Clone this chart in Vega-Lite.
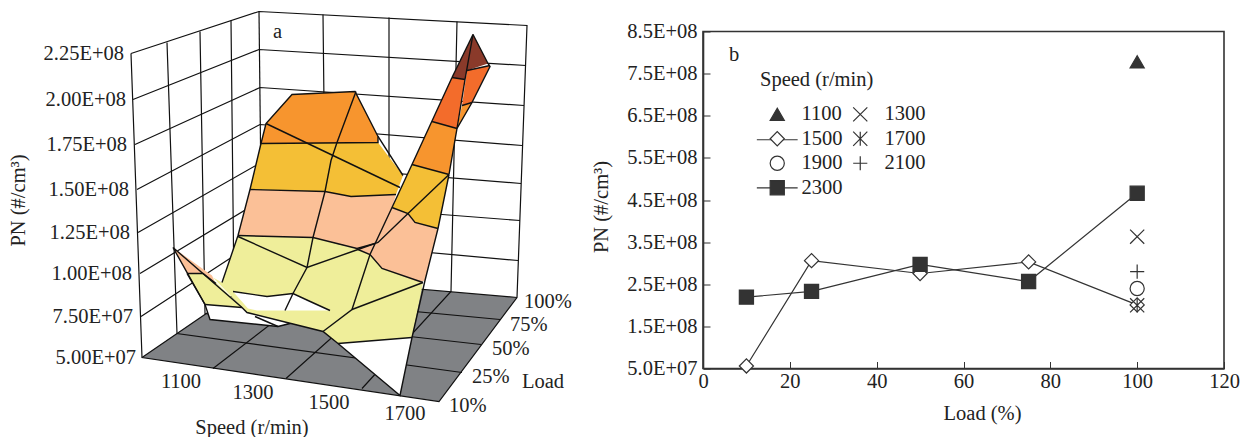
{"$schema":"https://vega.github.io/schema/vega-lite/v6.json","padding":{"top":8.5,"left":0,"right":0,"bottom":0},"autosize":{"type":"pad"},"spacing":0,"background":"white","config":{"font":"Liberation Serif","view":{"stroke":null}},
"resolve":{"scale":{"fill":"independent","shape":"independent"},"legend":{"fill":"independent","shape":"independent"}},
"hconcat":[
{"width":590,"height":406,
"encoding":{"x":{"field":"vx","type":"quantitative","scale":{"domain":[0,590],"nice":false,"zero":false},"axis":null},"y":{"field":"vy","type":"quantitative","scale":{"domain":[437,31],"nice":false,"zero":false},"axis":null}},
"layer":[
{"data":{"values":[
{"p":"a01","f":"floor","i":0,"vx":142,"vy":357},{"p":"a01","f":"floor","i":1,"vx":439,"vy":401},{"p":"a01","f":"floor","i":2,"vx":517,"vy":297},{"p":"a01","f":"floor","i":3,"vx":262,"vy":275},{"p":"a01","f":"floor","i":4,"vx":142,"vy":357}
]},"mark":{"type":"line","strokeWidth":0,"clip":false},"encoding":{"detail":{"field":"p"},"order":{"field":"i"},"fill":{"field":"f","type":"nominal","legend":null,"scale":{"domain":["floor","pale","white","peach","yellow","orange","deep","brown"],"range":["#808285","#EFEE9A","#FFFFFF","#FBC097","#F4BF36","#F7952E","#F36C2B","#8A3A2A"]}}}},
{"data":{"values":[
{"s":"f1","i":0,"vx":131,"vy":53},{"s":"f1","i":1,"vx":142,"vy":357},{"s":"f1","i":2,"vx":439,"vy":401},{"s":"f1","i":3,"vx":517,"vy":297},{"s":"f1","i":4,"vx":527,"vy":25},{"s":"f1","i":5,"vx":259,"vy":11},{"s":"f1","i":6,"vx":131,"vy":53},
{"s":"f2","i":0,"vx":142,"vy":357},{"s":"f2","i":1,"vx":262,"vy":275},{"s":"f2","i":2,"vx":517,"vy":297},
{"s":"f3","i":0,"vx":259,"vy":11},{"s":"f3","i":1,"vx":262,"vy":275},
{"s":"v1","i":0,"vx":167,"vy":42},{"s":"v1","i":1,"vx":177,"vy":333},{"s":"v1","i":2,"vx":462,"vy":372},
{"s":"v2","i":0,"vx":200,"vy":31},{"s":"v2","i":1,"vx":205,"vy":313},{"s":"v2","i":2,"vx":481,"vy":344},
{"s":"v3","i":0,"vx":231,"vy":20},{"s":"v3","i":1,"vx":234,"vy":294},{"s":"v3","i":2,"vx":500,"vy":319},
{"s":"b1","i":0,"vx":323,"vy":14},{"s":"b1","i":1,"vx":326,"vy":281},{"s":"b1","i":2,"vx":213,"vy":368},
{"s":"b2","i":0,"vx":389,"vy":17},{"s":"b2","i":1,"vx":389,"vy":286},{"s":"b2","i":2,"vx":286,"vy":378},
{"s":"b3","i":0,"vx":457,"vy":21},{"s":"b3","i":1,"vx":451,"vy":291},{"s":"b3","i":2,"vx":362,"vy":388},
{"s":"z2","i":0,"vx":133,"vy":99},{"s":"z2","i":1,"vx":259,"vy":49},{"s":"z2","i":2,"vx":526,"vy":65},
{"s":"z3","i":0,"vx":135,"vy":144},{"s":"z3","i":1,"vx":260,"vy":87},{"s":"z3","i":2,"vx":524,"vy":105},
{"s":"z4","i":0,"vx":137,"vy":189},{"s":"z4","i":1,"vx":260,"vy":124},{"s":"z4","i":2,"vx":522,"vy":145},
{"s":"z5","i":0,"vx":138,"vy":232},{"s":"z5","i":1,"vx":261,"vy":162},{"s":"z5","i":2,"vx":521,"vy":183},
{"s":"z6","i":0,"vx":140,"vy":273},{"s":"z6","i":1,"vx":261,"vy":200},{"s":"z6","i":2,"vx":520,"vy":220},
{"s":"z7","i":0,"vx":141,"vy":316},{"s":"z7","i":1,"vx":262,"vy":237},{"s":"z7","i":2,"vx":518,"vy":260}
]},"mark":{"type":"line","stroke":"#111","strokeWidth":1.2},"encoding":{"detail":{"field":"s"},"order":{"field":"i"}}},
{"data":{"values":[
{"p":"s01","f":"pale","i":0,"vx":238,"vy":235},{"p":"s01","f":"pale","i":1,"vx":313,"vy":237},{"p":"s01","f":"pale","i":2,"vx":358,"vy":249},{"p":"s01","f":"pale","i":3,"vx":370,"vy":254},{"p":"s01","f":"pale","i":4,"vx":382,"vy":268},{"p":"s01","f":"pale","i":5,"vx":423,"vy":282},{"p":"s01","f":"pale","i":6,"vx":412,"vy":337},{"p":"s01","f":"pale","i":7,"vx":338,"vy":343},{"p":"s01","f":"pale","i":8,"vx":323,"vy":331},{"p":"s01","f":"pale","i":9,"vx":247,"vy":312},{"p":"s01","f":"pale","i":10,"vx":242,"vy":307},{"p":"s01","f":"pale","i":11,"vx":213,"vy":277},{"p":"s01","f":"pale","i":12,"vx":222,"vy":282},{"p":"s01","f":"pale","i":13,"vx":238,"vy":235},
{"p":"s02","f":"white","i":0,"vx":338,"vy":343},{"p":"s02","f":"white","i":1,"vx":412,"vy":337},{"p":"s02","f":"white","i":2,"vx":400,"vy":395},{"p":"s02","f":"white","i":3,"vx":338,"vy":343},
{"p":"s03","f":"white","i":0,"vx":233,"vy":291},{"p":"s03","f":"white","i":1,"vx":267,"vy":296},{"p":"s03","f":"white","i":2,"vx":293,"vy":293},{"p":"s03","f":"white","i":3,"vx":308,"vy":300},{"p":"s03","f":"white","i":4,"vx":330,"vy":310},{"p":"s03","f":"white","i":5,"vx":257,"vy":310},{"p":"s03","f":"white","i":6,"vx":248,"vy":308},{"p":"s03","f":"white","i":7,"vx":233,"vy":291},
{"p":"s04","f":"white","i":0,"vx":205,"vy":304},{"p":"s04","f":"white","i":1,"vx":242,"vy":307},{"p":"s04","f":"white","i":2,"vx":247,"vy":312},{"p":"s04","f":"white","i":3,"vx":290,"vy":323},{"p":"s04","f":"white","i":4,"vx":278,"vy":326},{"p":"s04","f":"white","i":5,"vx":210,"vy":319},{"p":"s04","f":"white","i":6,"vx":205,"vy":304},
{"p":"s05","f":"pale","i":0,"vx":187,"vy":273},{"p":"s05","f":"pale","i":1,"vx":203,"vy":273},{"p":"s05","f":"pale","i":2,"vx":213,"vy":279},{"p":"s05","f":"pale","i":3,"vx":242,"vy":307},{"p":"s05","f":"pale","i":4,"vx":205,"vy":304},{"p":"s05","f":"pale","i":5,"vx":187,"vy":273},
{"p":"s06","f":"peach","i":0,"vx":173,"vy":247},{"p":"s06","f":"peach","i":1,"vx":212,"vy":275},{"p":"s06","f":"peach","i":2,"vx":215,"vy":282},{"p":"s06","f":"peach","i":3,"vx":203,"vy":273},{"p":"s06","f":"peach","i":4,"vx":187,"vy":273},{"p":"s06","f":"peach","i":5,"vx":173,"vy":247},
{"p":"s07","f":"peach","i":0,"vx":250,"vy":189},{"p":"s07","f":"peach","i":1,"vx":325,"vy":191},{"p":"s07","f":"peach","i":2,"vx":351,"vy":196},{"p":"s07","f":"peach","i":3,"vx":396,"vy":194},{"p":"s07","f":"peach","i":4,"vx":392,"vy":207},{"p":"s07","f":"peach","i":5,"vx":408,"vy":213},{"p":"s07","f":"peach","i":6,"vx":415,"vy":222},{"p":"s07","f":"peach","i":7,"vx":438,"vy":228},{"p":"s07","f":"peach","i":8,"vx":425,"vy":280},{"p":"s07","f":"peach","i":9,"vx":420,"vy":282},{"p":"s07","f":"peach","i":10,"vx":382,"vy":268},{"p":"s07","f":"peach","i":11,"vx":370,"vy":254},{"p":"s07","f":"peach","i":12,"vx":358,"vy":249},{"p":"s07","f":"peach","i":13,"vx":313,"vy":237},{"p":"s07","f":"peach","i":14,"vx":238,"vy":235},{"p":"s07","f":"peach","i":15,"vx":250,"vy":189},
{"p":"s08","f":"yellow","i":0,"vx":261,"vy":143},{"p":"s08","f":"yellow","i":1,"vx":378,"vy":142},{"p":"s08","f":"yellow","i":2,"vx":403,"vy":175},{"p":"s08","f":"yellow","i":3,"vx":396,"vy":194},{"p":"s08","f":"yellow","i":4,"vx":351,"vy":196},{"p":"s08","f":"yellow","i":5,"vx":325,"vy":191},{"p":"s08","f":"yellow","i":6,"vx":250,"vy":189},{"p":"s08","f":"yellow","i":7,"vx":261,"vy":143},
{"p":"s09","f":"orange","i":0,"vx":266,"vy":123},{"p":"s09","f":"orange","i":1,"vx":292,"vy":94},{"p":"s09","f":"orange","i":2,"vx":355,"vy":91},{"p":"s09","f":"orange","i":3,"vx":378,"vy":136},{"p":"s09","f":"orange","i":4,"vx":378,"vy":142},{"p":"s09","f":"orange","i":5,"vx":261,"vy":143},{"p":"s09","f":"orange","i":6,"vx":266,"vy":123},
{"p":"s10","f":"yellow","i":0,"vx":412,"vy":164},{"p":"s10","f":"yellow","i":1,"vx":449,"vy":174},{"p":"s10","f":"yellow","i":2,"vx":438,"vy":228},{"p":"s10","f":"yellow","i":3,"vx":415,"vy":222},{"p":"s10","f":"yellow","i":4,"vx":408,"vy":213},{"p":"s10","f":"yellow","i":5,"vx":392,"vy":207},{"p":"s10","f":"yellow","i":6,"vx":412,"vy":164},
{"p":"s11","f":"orange","i":0,"vx":432,"vy":121},{"p":"s11","f":"orange","i":1,"vx":457,"vy":128},{"p":"s11","f":"orange","i":2,"vx":449,"vy":174},{"p":"s11","f":"orange","i":3,"vx":412,"vy":164},{"p":"s11","f":"orange","i":4,"vx":432,"vy":121},
{"p":"s12","f":"deep","i":0,"vx":452,"vy":77},{"p":"s12","f":"deep","i":1,"vx":465,"vy":79},{"p":"s12","f":"deep","i":2,"vx":457,"vy":128},{"p":"s12","f":"deep","i":3,"vx":432,"vy":121},{"p":"s12","f":"deep","i":4,"vx":452,"vy":77},
{"p":"s13","f":"deep","i":0,"vx":467,"vy":70},{"p":"s13","f":"deep","i":1,"vx":490,"vy":65},{"p":"s13","f":"deep","i":2,"vx":472,"vy":102},{"p":"s13","f":"deep","i":3,"vx":462,"vy":105},{"p":"s13","f":"deep","i":4,"vx":467,"vy":70},
{"p":"s14","f":"orange","i":0,"vx":462,"vy":105},{"p":"s14","f":"orange","i":1,"vx":472,"vy":102},{"p":"s14","f":"orange","i":2,"vx":457,"vy":128},{"p":"s14","f":"orange","i":3,"vx":462,"vy":105},
{"p":"s15","f":"brown","i":0,"vx":473,"vy":34},{"p":"s15","f":"brown","i":1,"vx":488,"vy":63},{"p":"s15","f":"brown","i":2,"vx":467,"vy":70},{"p":"s15","f":"brown","i":3,"vx":465,"vy":79},{"p":"s15","f":"brown","i":4,"vx":452,"vy":77},{"p":"s15","f":"brown","i":5,"vx":473,"vy":34}
]},"mark":{"type":"line","strokeWidth":0},"encoding":{"detail":{"field":"p"},"order":{"field":"i"},"fill":{"field":"f","type":"nominal","legend":null,"scale":{"domain":["floor","pale","white","peach","yellow","orange","deep","brown"],"range":["#808285","#EFEE9A","#FFFFFF","#FBC097","#F4BF36","#F7952E","#F36C2B","#8A3A2A"]}}}},
{"data":{"values":[
{"s":"l01","i":0,"vx":222,"vy":282},{"s":"l01","i":1,"vx":238,"vy":235},{"s":"l01","i":2,"vx":250,"vy":189},{"s":"l01","i":3,"vx":261,"vy":143},{"s":"l01","i":4,"vx":266,"vy":123},{"s":"l01","i":5,"vx":292,"vy":94},{"s":"l01","i":6,"vx":355,"vy":91},{"s":"l01","i":7,"vx":378,"vy":136},{"s":"l01","i":8,"vx":403,"vy":175},
{"s":"l02","i":0,"vx":378,"vy":136},{"s":"l02","i":1,"vx":378,"vy":142},{"s":"l02","i":2,"vx":261,"vy":143},
{"s":"l03","i":0,"vx":266,"vy":123},{"s":"l03","i":1,"vx":400,"vy":187},
{"s":"l04","i":0,"vx":356,"vy":91},{"s":"l04","i":1,"vx":337,"vy":142},{"s":"l04","i":2,"vx":331,"vy":160},{"s":"l04","i":3,"vx":325,"vy":191},{"s":"l04","i":4,"vx":313,"vy":237},{"s":"l04","i":5,"vx":307,"vy":267},{"s":"l04","i":6,"vx":293,"vy":293},{"s":"l04","i":7,"vx":285,"vy":310},
{"s":"l05","i":0,"vx":250,"vy":189},{"s":"l05","i":1,"vx":325,"vy":191},{"s":"l05","i":2,"vx":351,"vy":196},{"s":"l05","i":3,"vx":396,"vy":194},
{"s":"l06","i":0,"vx":238,"vy":235},{"s":"l06","i":1,"vx":313,"vy":237},{"s":"l06","i":2,"vx":357,"vy":248},{"s":"l06","i":3,"vx":375,"vy":243},
{"s":"l07","i":0,"vx":238,"vy":236},{"s":"l07","i":1,"vx":307,"vy":267},{"s":"l07","i":2,"vx":358,"vy":249},{"s":"l07","i":3,"vx":378,"vy":242},{"s":"l07","i":4,"vx":408,"vy":213},{"s":"l07","i":5,"vx":449,"vy":174},
{"s":"l08","i":0,"vx":452,"vy":77},{"s":"l08","i":1,"vx":412,"vy":164},{"s":"l08","i":2,"vx":392,"vy":207},{"s":"l08","i":3,"vx":370,"vy":254},{"s":"l08","i":4,"vx":352,"vy":309},{"s":"l08","i":5,"vx":323,"vy":331},
{"s":"l09","i":0,"vx":358,"vy":249},{"s":"l09","i":1,"vx":370,"vy":254},{"s":"l09","i":2,"vx":382,"vy":268},{"s":"l09","i":3,"vx":423,"vy":282},
{"s":"l10","i":0,"vx":352,"vy":309},{"s":"l10","i":1,"vx":423,"vy":282},
{"s":"l11","i":0,"vx":449,"vy":174},{"s":"l11","i":1,"vx":438,"vy":228},{"s":"l11","i":2,"vx":425,"vy":280},{"s":"l11","i":3,"vx":412,"vy":337},{"s":"l11","i":4,"vx":400,"vy":395},{"s":"l11","i":5,"vx":338,"vy":343},{"s":"l11","i":6,"vx":323,"vy":331},{"s":"l11","i":7,"vx":247,"vy":312},{"s":"l11","i":8,"vx":242,"vy":307},{"s":"l11","i":9,"vx":173,"vy":247},{"s":"l11","i":10,"vx":205,"vy":304},{"s":"l11","i":11,"vx":210,"vy":319},{"s":"l11","i":12,"vx":278,"vy":326},{"s":"l11","i":13,"vx":290,"vy":323},
{"s":"l12","i":0,"vx":412,"vy":337},{"s":"l12","i":1,"vx":338,"vy":343},
{"s":"l13","i":0,"vx":473,"vy":34},{"s":"l13","i":1,"vx":488,"vy":63},{"s":"l13","i":2,"vx":490,"vy":66},{"s":"l13","i":3,"vx":472,"vy":102},{"s":"l13","i":4,"vx":457,"vy":128},{"s":"l13","i":5,"vx":449,"vy":174},
{"s":"l14","i":0,"vx":473,"vy":34},{"s":"l14","i":1,"vx":452,"vy":77},
{"s":"l15","i":0,"vx":473,"vy":34},{"s":"l15","i":1,"vx":465,"vy":79},{"s":"l15","i":2,"vx":457,"vy":128},
{"s":"l16","i":0,"vx":467,"vy":70},{"s":"l16","i":1,"vx":490,"vy":65},
{"s":"l17","i":0,"vx":452,"vy":77},{"s":"l17","i":1,"vx":465,"vy":79},
{"s":"l18","i":0,"vx":462,"vy":105},{"s":"l18","i":1,"vx":472,"vy":102},
{"s":"l19","i":0,"vx":432,"vy":121},{"s":"l19","i":1,"vx":457,"vy":128},
{"s":"l20","i":0,"vx":412,"vy":164},{"s":"l20","i":1,"vx":449,"vy":174},
{"s":"l21","i":0,"vx":392,"vy":207},{"s":"l21","i":1,"vx":408,"vy":213},{"s":"l21","i":2,"vx":415,"vy":222},{"s":"l21","i":3,"vx":438,"vy":228},
{"s":"l22","i":0,"vx":187,"vy":273},{"s":"l22","i":1,"vx":203,"vy":273},{"s":"l22","i":2,"vx":216,"vy":283},
{"s":"l23","i":0,"vx":233,"vy":291},{"s":"l23","i":1,"vx":267,"vy":296},{"s":"l23","i":2,"vx":293,"vy":293},{"s":"l23","i":3,"vx":308,"vy":300},{"s":"l23","i":4,"vx":330,"vy":310},
{"s":"l24","i":0,"vx":205,"vy":304},{"s":"l24","i":1,"vx":242,"vy":307},
{"s":"l25","i":0,"vx":255,"vy":316},{"s":"l25","i":1,"vx":278,"vy":326},
{"s":"l26","i":0,"vx":187,"vy":273},{"s":"l26","i":1,"vx":205,"vy":304}
]},"mark":{"type":"line","stroke":"#111","strokeWidth":1.4},"encoding":{"detail":{"field":"s"},"order":{"field":"i"}}},
{"data":{"values":[
{"t":"2.25E+08","vx":124,"vy":53},{"t":"2.00E+08","vx":126,"vy":99},{"t":"1.75E+08","vx":127,"vy":144},{"t":"1.50E+08","vx":129,"vy":189},{"t":"1.25E+08","vx":130,"vy":232},{"t":"1.00E+08","vx":132,"vy":273},{"t":"7.50E+07","vx":133,"vy":316},{"t":"5.00E+07","vx":136,"vy":357}
]},"mark":{"type":"text","align":"right","baseline":"middle","fontSize":20.5,"color":"#222"},"encoding":{"text":{"field":"t"}}},
{"data":{"values":[
{"t":"1100","vx":181,"vy":381},{"t":"1300","vx":253,"vy":392},{"t":"1500","vx":329,"vy":402},{"t":"1700","vx":405,"vy":413},{"t":"Speed (r/min)","vx":252,"vy":427}
]},"mark":{"type":"text","align":"center","baseline":"middle","fontSize":20.5,"color":"#222"},"encoding":{"text":{"field":"t"}}},
{"data":{"values":[
{"t":"100%","vx":524,"vy":301},{"t":"75%","vx":510,"vy":324},{"t":"50%","vx":492,"vy":348},{"t":"25%","vx":472,"vy":376},{"t":"10%","vx":449,"vy":405},{"t":"Load","vx":522,"vy":381},{"t":"a","vx":273,"vy":31}
]},"mark":{"type":"text","align":"left","baseline":"middle","fontSize":20.5,"color":"#222"},"encoding":{"text":{"field":"t"}}},
{"data":{"values":[{"t":"PN (#/cm³)","vx":19,"vy":200}]},"mark":{"type":"text","align":"center","baseline":"middle","fontSize":20.5,"angle":270,"color":"#222"},"encoding":{"text":{"field":"t"}}}
]},
{"width":521,"height":337,"view":{"stroke":"#333","strokeWidth":1.6},
"data":{"values":[
{"speed":"1100","load":100,"pn":778000000},
{"speed":"1300","load":100,"pn":363000000},
{"speed":"1500","load":10,"pn":56000000},{"speed":"1500","load":25,"pn":306000000},{"speed":"1500","load":50,"pn":275500000},{"speed":"1500","load":75,"pn":303000000},{"speed":"1500","load":100,"pn":201000000},
{"speed":"1700","load":100,"pn":200000000},
{"speed":"1900","load":100,"pn":240000000},
{"speed":"2100","load":100,"pn":280000000},
{"speed":"2300","load":10,"pn":219500000},{"speed":"2300","load":25,"pn":233000000},{"speed":"2300","load":50,"pn":297000000},{"speed":"2300","load":75,"pn":256500000},{"speed":"2300","load":100,"pn":466000000}
]},
"encoding":{
"x":{"field":"load","type":"quantitative","title":"Load (%)","scale":{"domain":[0,120],"nice":false,"zero":false},"axis":{"values":[0,20,40,60,80,100,120],"grid":false,"tickSize":-7,"tickColor":"#333","domainColor":"#333","domainWidth":1.6,"labelFontSize":20.5,"labelColor":"#222","titleFontSize":20.5,"titleFontWeight":"normal","titleColor":"#222","labelPadding":10,"titlePadding":11,"titleX":279,"labelFlush":false}},
"y":{"field":"pn","type":"quantitative","title":"PN (#/cm³)","scale":{"domain":[50000000,850000000],"nice":false,"zero":false},"axis":{"values":[50000000,150000000,250000000,350000000,450000000,550000000,650000000,750000000,850000000],"labelExpr":"datum.value==50000000?'5.0E+07':format(datum.value/100000000,'.1f')+'E+08'","grid":false,"tickSize":-7,"tickColor":"#333","domainColor":"#333","domainWidth":1.6,"labelFontSize":20.5,"labelColor":"#222","titleFontSize":20.5,"titleFontWeight":"normal","titleColor":"#222","labelPadding":13,"titlePadding":15,"titleY":175,"labelFlush":false}}},
"layer":[
{"data":{"values":[{"key":"1500","load":12.4,"pn":593000000},{"key":"1500","load":21.8,"pn":593000000},{"key":"2300","load":12.4,"pn":479000000},{"key":"2300","load":21.8,"pn":479000000}]},"mark":{"type":"line","stroke":"#333","strokeWidth":1.2},"encoding":{"detail":{"field":"key"}}},
{"transform":[{"filter":"datum.speed=='1500'||datum.speed=='2300'"}],"mark":{"type":"line","stroke":"#333","strokeWidth":1.2},"encoding":{"detail":{"field":"speed"}}},
{"mark":{"type":"point","filled":true,"stroke":"#333","strokeWidth":1.2,"size":200,"opacity":1},
"encoding":{
"shape":{"field":"speed","type":"nominal","scale":{"domain":["1100","1500","1900","2300","1300","1700","2100"],"range":["triangle-up","diamond","circle","square","M-1,-1L1,1M-1,1L1,-1","M-1,-1L1,1M-1,1L1,-1M0,-1L0,1","M-1,0L1,0M0,-1L0,1"]},
"legend":{"title":"Speed (r/min)","orient":"none","legendX":57,"legendY":38,"columns":2,"symbolOffset":7,"titleFontSize":20.5,"titleFontWeight":"normal","titleColor":"#222","labelFontSize":20.5,"labelColor":"#222","titlePadding":14,"rowPadding":3.5,"columnPadding":-4,"labelOffset":14,"symbolSize":200,"symbolStrokeWidth":1.2}},
"fill":{"field":"speed","type":"nominal","scale":{"domain":["1100","1500","1900","2300","1300","1700","2100"],"range":["#333333","#FFFFFF","transparent","#333333","transparent","transparent","transparent"]},
"legend":{"title":"Speed (r/min)","orient":"none","legendX":57,"legendY":38,"columns":2,"symbolOffset":7,"titleFontSize":20.5,"titleFontWeight":"normal","titleColor":"#222","labelFontSize":20.5,"labelColor":"#222","titlePadding":14,"rowPadding":3.5,"columnPadding":-4,"labelOffset":14,"symbolSize":200,"symbolStrokeWidth":1.2}}}},
{"data":{"values":[{"t":"b","load":6,"pn":795000000}]},"mark":{"type":"text","align":"left","baseline":"middle","fontSize":20.5,"color":"#222"},"encoding":{"text":{"field":"t"}}}
]}
]}
